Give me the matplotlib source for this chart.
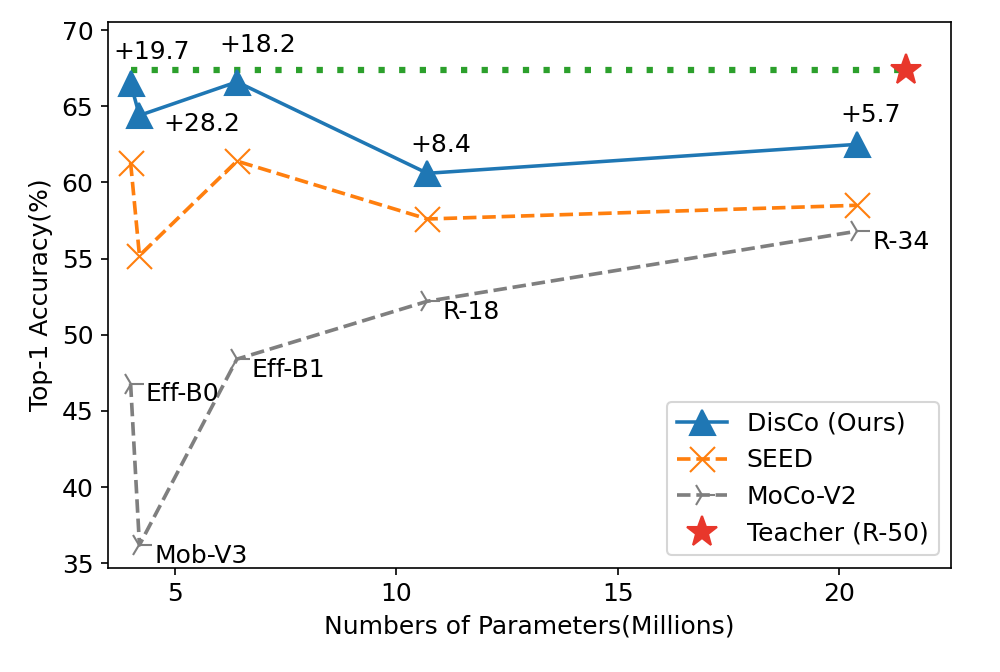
import matplotlib
matplotlib.use('Agg')
import matplotlib.pyplot as plt

# ---- data ----
models = ['Eff-B0', 'Mob-V3', 'Eff-B1', 'R-18', 'R-34']
params = [4.0, 4.2, 6.4, 10.7, 20.4]
disco = [66.5, 64.4, 66.6, 60.6, 62.5]
seed = [61.3, 55.2, 61.4, 57.6, 58.5]
moco = [46.8, 36.2, 48.4, 52.2, 56.8]
gains = ['+19.7', '+28.2', '+18.2', '+8.4', '+5.7']
teacher_params = [21.5]
teacher_acc = [67.4]

# ---- style ----
gain_offsets = [(10, 11.5), (11.5, -7.7), (10, 14.4), (6.4, 10), (6.4, 10.9)]
gain_ha = ['center', 'left', 'center', 'center', 'center']

plt.rcParams['font.family'] = ['DejaVu Sans']
plt.rcParams['font.size'] = 12

fig = plt.figure(figsize=(1000 / 150, 672 / 150), dpi=150)
ax = fig.add_axes([0.108, 0.155, 0.843, 0.812])

ax.plot([params[0], teacher_params[0]], [teacher_acc[0], teacher_acc[0]],
        color='#2ca02c', lw=3, linestyle=(0, (1, 2.3)), zorder=1)

ax.plot(params, disco, color='#1f77b4', lw=1.7, marker='^', ms=12,
        linestyle='-', label='DisCo (Ours)', zorder=3)
ax.plot(params, seed, color='#ff7f0e', lw=1.75, marker='x', ms=12,
        linestyle='--', label='SEED', zorder=3)
ax.plot(params, moco, color='#7f7f7f', lw=1.75, marker='4', ms=12,
        linestyle='--', label='MoCo-V2', zorder=3)
ax.plot(teacher_params, teacher_acc, color='#e8372b', marker='*', ms=15,
        linestyle='none', label='Teacher (R-50)', zorder=4)

for x, y, g, off, ha in zip(params, disco, gains, gain_offsets, gain_ha):
    ax.annotate(g, (x, y), xytext=off, textcoords='offset points',
                ha=ha, va='baseline', fontsize=12)

for x, y, m in zip(params, moco, models):
    ax.annotate(m, (x, y), xytext=(7.2, -8.6), textcoords='offset points',
                ha='left', va='baseline', fontsize=12)

ax.set_xlim(3.49, 22.52)
ax.set_ylim(34.7, 70.52)
ax.set_xticks([5, 10, 15, 20])
ax.set_yticks([35, 40, 45, 50, 55, 60, 65, 70])
ax.set_xlabel('Numbers of Parameters(Millions)')
ax.set_ylabel('Top-1 Accuracy(%)')
ax.legend(loc='lower right', fontsize=12)

fig.savefig('out.png', dpi=150)
